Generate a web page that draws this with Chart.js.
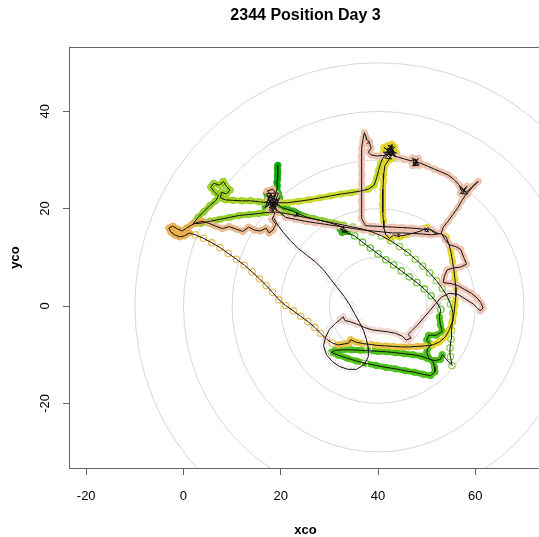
<!DOCTYPE html>
<html>
<head>
<meta charset="utf-8">
<script src="https://cdn.jsdelivr.net/npm/chart.js@4.4.1/dist/chart.umd.min.js"></script>
<style>
  html, body { margin: 0; padding: 0; background: #fff; overflow: hidden; width: 539px; height: 537px; }
  #wrap { width: 560px; height: 537px; position: relative; }
</style>
</head>
<body>
<div id="wrap"><canvas id="c" width="560" height="537"></canvas></div>
<script>
// ---------------- data ----------------
const chartTitle = "2344 Position Day 3";
const xLabel = "xco";
const yLabel = "yco";
const xTicks = [-20, 0, 20, 40, 60];
const yTicks = [-20, 0, 20, 40];
const xRange = [-23.33, 73.5];
const yRange = [-33.26, 53.18];
const ringCenter = [40, 0];
const ringRadii = [10, 20, 30, 40, 50];

// track, in time order, split into colour phases
const segA = [[19.4,28.9],[19.3,28.2],[19.4,27.5],[19.3,26.8],[19.4,26.1],[19.2,25.4],[19.3,24.7],[19.2,24.0],[19.0,23.3],[18.8,22.6],[18.4,22.0]];
const segB = [[17.8,21.6],[18.6,21.0],[17.9,20.4],[18.9,20.6],[18.2,21.9],[17.2,20.6],[19.4,21.7],[17.4,22.6],[18.8,20.1],[16.9,21.4],[19.6,20.8],[18.1,19.8],[18.9,22.8],[17.3,21.9],[19.2,19.6],[17.8,22.9],[16.8,20.2],[19.8,22.2],[18.4,19.4],[17.1,23.1],[19.5,23.2],[18.6,20.6],[17.6,20.2],[18.8,21.4],[20.2,20.2],[21.5,19.8],[22.6,19.5],[23.4,18.9],[22.7,18.4],[23.8,18.6],[23.1,19.2],[25.2,18.3],[26.8,17.9],[28.4,17.5],[30,17.1],[31.4,16.7],[32.5,16.3],[33.4,15.6],[32.6,15.1],[33.8,15.3],[32.2,15.8],[33,16.4],[32.6,15.4]];
const segC = [[35.2,14.4],[36.8,13.1],[38.4,11.9],[40,10.7],[41.6,9.5],[43.2,8.4],[44.8,7.2],[46.4,6],[48,4.8],[49.5,3.5],[50.9,2.1],[52.1,0.7],[52.9,-0.7]];
const segD = [[52.6,-2.2],[52.8,-3.8],[53.2,-5.2],[52,-6],[50.4,-6],[50,-7],[51,-8],[50.2,-8.7],[50,-9.5],[50.4,-10.6],[51.3,-11.4],[51.6,-12.5],[51.7,-13.5],[50.8,-14.3],[49.2,-14],[47.5,-13.6],[45.6,-13.3],[43.6,-12.9],[41.6,-12.6],[39.6,-12.2],[37.6,-11.8],[35.6,-11.3],[33.6,-10.7],[31.8,-10.1],[30.4,-9.5],[31.2,-9.1],[32.8,-9],[34.6,-9],[36.4,-9.1],[38.2,-9.2],[40,-9.3],[41.8,-9.4],[43.6,-9.6],[45.4,-9.8],[47.2,-10],[48.8,-10.3],[50.2,-10.8],[51.6,-11.2],[52.8,-11],[53.2,-10]];
const segE = [[55.2,-12.2],[54.9,-10.4],[54.8,-8.6],[55,-6.8],[55.1,-5],[55.3,-3.2],[55.4,-1.4],[54.9,0.4],[54.2,2],[53.2,3.6],[52,5.2],[50.6,6.8],[49.2,8.2],[47.7,9.6],[46.1,11],[44.4,12.2],[42.6,13.4],[40.7,14.4],[38.8,15.2],[36.8,15.8],[34.8,16.2]];
const segF = [[33,16.6],[31,17],[29,17.4],[27,17.8],[25,18.2],[23,18.6],[21,19],[19,19.3],[17,19.2],[15.5,19],[13.5,18.8],[11.5,18.6],[9.5,18.2],[7.5,17.8],[5.5,17.4],[3.6,17],[2,16.9],[3,18.2],[4.2,19.4],[5.4,20.6],[6.6,21.6]];
const segG = [[7.2,22.6],[6.4,23.4],[5.6,24.4],[6.2,25.2],[7.4,24.8],[8.2,25.6],[8.8,24.6],[9.6,23.8],[8.8,23],[7.8,23.4],[7.6,22.2],[8.6,21.8],[10.2,21.7],[12,21.6],[13.8,21.6],[15.6,21.4],[17.2,21.2]];
const segH = [[19.2,21.2],[21.4,21.2],[23.6,21.5],[25.8,21.8],[28,22.2],[30.2,22.6],[32.4,23],[34.6,23.3],[36.4,23.6],[38,24],[39.2,24.8],[39.7,26.3],[40.1,27.8],[40.5,29.2],[41,30.4]];
const segI = [[41.6,31.2],[42.4,32.3],[43.2,31.6],[42.6,30.8],[41.8,31.8],[42.8,32.8],[43.4,30.8],[41.2,32.6],[43.6,30.6],[42.1,33],[43.4,32.6],[41.4,30.4],[42.8,30.2],[41.1,31.6],[43.8,31.4],[42.3,32.1],[42.9,33.2],[42.6,31.4],[41.9,32.4],[43,32],[42.2,31],[42.9,30.9],[41.7,31.5],[42.5,32.6],[43.3,31.8],[42.2,30],[41.4,28.8],[41.2,27.2],[41.1,25.6],[41,24],[41,22.4],[40.9,20.8],[41,19.2],[41.1,17.6],[41.2,16],[41.6,14.6],[42.4,13.9],[43.2,14.6],[44.4,14.2],[44,14.8],[44.8,14.4],[45.8,14.6],[47.4,15],[48.8,15.4],[49.8,16],[50.4,15.2],[49.6,15.4],[50.2,16.1],[51.6,15],[53,14.8],[54,14.2],[54.6,12.6],[55,11],[55.3,9.2],[55.6,7.4],[55.8,5.6],[56,3.8],[56,2],[55.8,0.2],[55.6,-1.6],[55.2,-3.4],[54.6,-5],[53.8,-6.4],[52.6,-7.4],[51.2,-8]];
const segJ = [[49.6,-8.2],[48,-8.3],[46.4,-8.4],[44.8,-8.4],[43.2,-8.3],[41.6,-8.2],[40,-8.1],[38.4,-7.9],[36.8,-7.7],[35.4,-7.4],[34.4,-6.9],[34,-7.6],[33,-7.8],[31.8,-8]];
const segK = [[30.6,-7.6],[29.4,-6.8],[28.2,-5.6],[27,-4.4],[25.6,-3.2],[24.1,-2.1],[22.6,-1],[21,0.1],[19.6,1.3],[18.3,2.8],[17,4.2],[15.6,5.6],[14.1,7],[12.5,8.4],[10.9,9.6],[9.2,10.8],[7.5,12],[5.8,13],[4.1,13.9],[2.5,14.6]];
const segL = [[1.2,15],[0.2,14.4],[-0.8,14.2],[-1.8,14.6],[-2.6,15.2],[-3,16],[-2.2,16.4],[-1.2,15.8],[-0.2,15.4],[0.6,16],[1.6,16.6],[2.6,17.1],[3.8,17.4]];
const segM = [[5.2,17],[6.6,16.4],[8,15.9],[9.4,16.3],[10.8,15.8],[12.2,15.3],[13.4,16.2],[14.6,15.6],[15.8,15.4],[17,16],[17.6,15],[18.4,15.6],[19,16.8],[18.2,17.8],[18.8,19],[17.6,19.8],[18.6,20.8],[17.4,21.8],[18.2,22.8],[17.2,23.6],[18.4,24],[19,23],[18,22.2],[19.4,21.6],[18.4,20.2],[19.6,19.4]];
const segN = [[21,18.2],[23,17.8],[25,17.4],[27,17.1],[29,16.8],[31,16.5],[33,16.2],[35,15.9],[37,15.6],[39,15.4],[41,15.2],[43,15],[45,15],[47,14.9],[49,14.8],[51,14.6],[52.4,14.8],[51,15.6],[49,15.8],[47,16],[45,16.1],[43,16.2],[41,16.3],[39,16.4],[37.4,16.5],[36.6,18],[36.7,19.8],[36.6,21.6],[36.5,23.4],[36.6,25.2],[36.7,27],[36.6,28.8],[36.6,30.6],[36.7,32.4],[36.9,34.2],[37.2,35.6],[37.6,34.6],[37.6,34.2],[38.2,33.8],[37.8,33.4],[38.2,33.6],[38.6,32.4],[38,31.6],[38.6,31],[39.8,30.8],[41,30.9],[42.6,31.2],[44,30.6],[45.4,30.2],[46.8,29.8],[47.6,30.2],[48.2,29.2],[47.4,29],[47.2,29.8],[48,30],[47.8,29.2],[47.3,29.4],[48.1,29.6],[47,30.4],[48.4,28.9],[47.1,28.8],[48.3,30.3],[47.6,29.6],[48.8,29.3],[50.2,28.7],[51.6,28.1],[53,27.5],[54.4,26.9],[55.6,26],[56.6,24.9],[57.4,24],[57.2,24.2],[57.9,23.5],[57.4,23.3],[58,24.1],[57.1,23.7],[56.8,24.6],[58.4,23],[56.9,23.1],[58.3,24.6],[57.6,23.8],[58.2,23.4],[59.2,24.4],[60.6,25.6],[59.6,24.6],[58,22.8],[57.2,21.6],[56.4,20.2],[55.4,18.8],[54.4,17.4],[53.4,16.2],[53,15],[53.8,13.6],[54.6,12.6],[56,12.2],[57,11.6],[57.6,10],[58.2,8.6],[57,8],[55.4,7.8],[54.2,7.4],[53.6,6],[53.4,4.8],[55,4.6],[56.4,4.2],[57.8,3.4],[59.2,2.6],[60.4,1.6],[61.2,0.6],[61.6,-0.4],[61,-1]];
const segO = [[59.6,0.4],[58,1.4],[56.4,2.4],[54.6,2.6],[53,1.8],[51.8,0.4],[50.6,-1],[49.4,-2.4],[48.2,-3.8],[47,-5],[46.2,-5.8],[46.8,-6.6],[45.8,-7],[45,-6.2],[43.6,-5.6],[42,-5.3],[40.4,-5.1],[38.8,-4.9],[37.2,-4.4],[35.6,-3.7],[34.2,-3.2],[33.2,-3],[32.8,-2.2],[32.2,-2.8]];
const segP = [[31.2,-3.6],[30,-4.8],[29.2,-6.4],[28.8,-8.2],[29.4,-10],[30.6,-11.4],[32,-12.4],[33.8,-13],[35.6,-13],[37.2,-12],[38,-10.4],[38,-8.6],[37.6,-6.8],[37,-5],[36.2,-3.4],[35.2,-1.6],[34.2,0.2],[33,2],[31.6,3.8],[30.2,5.6],[28.8,7.4],[27.2,9],[25.4,10.4],[23.6,11.8],[22,13.4],[20.6,15],[19.4,16.6],[18.6,18]];

const segments = [segA, segB, segC, segD, segE, segF, segG, segH, segI, segJ, segK, segL, segM, segN, segO, segP];

// ---------------- styles ----------------
const segStyle = [
  { band: '#00A600', ring: '#10AE10' },
  { band: '#3CB81E', ring: '#30B010' },
  { band: null,      ring: '#6CC83A' },
  { band: '#52C41C', ring: '#44BC10' },
  { band: null,      ring: '#90D254' },
  { band: '#9AD230', ring: '#88C820' },
  { band: '#B4DA2A', ring: '#80C818' },
  { band: '#CCDC30', ring: '#C0D420' },
  { band: '#EADF30', ring: '#DDD020' },
  { band: '#ECC84A', ring: '#E4BC3C' },
  { band: null,      ring: '#EABE5C' },
  { band: '#EDB65A', ring: '#E6AA48' },
  { band: '#EFBF94', ring: '#EAB286' },
  { band: '#F1C9B8', ring: '#ECBCAA' },
  { band: '#F4DCD6', ring: '#EFD0C8' },
  { band: null,      ring: '#F4E6E4' }
];

const toXY = p => ({ x: p[0], y: p[1] });
const datasets = [];
segments.forEach((seg, i) => {
  const st = segStyle[i];
  datasets.push({
    data: seg.map(toXY),
    showLine: !!st.band,
    borderColor: st.band || st.ring,
    borderWidth: st.band ? 6 : 0,
    borderJoinStyle: 'round',
    borderCapStyle: 'round',
    tension: 0,
    pointRadius: 3.2,
    pointBorderWidth: st.band ? 1 : 1.3,
    pointBorderColor: st.ring,
    pointBackgroundColor: 'rgba(0,0,0,0)',
    pointHoverRadius: 0,
    order: 100 - i
  });
});
datasets.push({
  data: segments.flat().map(toXY),
  showLine: true,
  borderColor: '#111',
  borderWidth: 1,
  tension: 0,
  pointRadius: 0,
  pointHoverRadius: 0,
  order: 0
});

const FONT = "'Liberation Sans', Arial, Helvetica, sans-serif";

const refPlugin = {
  id: 'ref',
  beforeDatasetsDraw(chart) {
    const { ctx, chartArea: a, scales: { x, y } } = chart;
    ctx.save();
    ctx.beginPath();
    ctx.rect(a.left, a.top, a.right - a.left, a.bottom - a.top);
    ctx.clip();
    ctx.strokeStyle = '#D6D6D6';
    ctx.lineWidth = 1;
    const cx = x.getPixelForValue(ringCenter[0]);
    const cy = y.getPixelForValue(ringCenter[1]);
    ringRadii.forEach(r => {
      const rp = x.getPixelForValue(ringCenter[0] + r) - cx;
      ctx.beginPath();
      ctx.arc(cx, cy, rp, 0, Math.PI * 2);
      ctx.stroke();
    });
    ctx.restore();
  },
  afterDraw(chart) {
    const { ctx, chartArea: a, scales: { x, y } } = chart;
    ctx.save();
    ctx.strokeStyle = '#666';
    ctx.lineWidth = 1;
    ctx.strokeRect(Math.round(a.left) - 0.5, Math.round(a.top) + 0.5, a.right - a.left, Math.round(a.bottom - a.top));
    ctx.fillStyle = '#000';
    ctx.textAlign = 'center';
    ctx.textBaseline = 'middle';
    ctx.font = 'bold 16px ' + FONT;
    ctx.fillText(chartTitle, (a.left + a.right) / 2, 16);
    ctx.font = 'bold 13px ' + FONT;
    ctx.fillText(xLabel, (a.left + a.right) / 2, 530);
    ctx.save();
    ctx.translate(15, (a.top + a.bottom) / 2);
    ctx.rotate(-Math.PI / 2);
    ctx.fillText(yLabel, 0, 0);
    ctx.restore();
    ctx.font = '13px ' + FONT;
    yTicks.forEach(v => {
      const py = y.getPixelForValue(v);
      ctx.save();
      ctx.translate(45, py);
      ctx.rotate(-Math.PI / 2);
      ctx.fillText(String(v), 0, 0);
      ctx.restore();
    });
    ctx.restore();
  }
};

new Chart(document.getElementById('c'), {
  type: 'scatter',
  data: { datasets },
  options: {
    responsive: false,
    animation: false,
    events: [],
    layout: { padding: { top: 47, right: 19, left: 0, bottom: 0 } },
    plugins: { legend: { display: false }, tooltip: { enabled: false }, title: { display: false } },
    scales: {
      x: {
        type: 'linear', min: xRange[0], max: xRange[1],
        afterBuildTicks: s => { s.ticks = xTicks.map(v => ({ value: v })); },
        afterFit: s => { s.height = 69; },
        grid: { drawOnChartArea: false, drawTicks: true, tickLength: 7, color: '#666', lineWidth: 1 },
        border: { display: false },
        ticks: { color: '#000', font: { family: FONT, size: 13 }, padding: 14, maxRotation: 0, autoSkip: false,
                 callback: v => String(v) }
      },
      y: {
        type: 'linear', min: yRange[0], max: yRange[1],
        afterBuildTicks: s => { s.ticks = yTicks.map(v => ({ value: v })); },
        afterFit: s => { s.width = 70; },
        grid: { drawOnChartArea: false, drawTicks: true, tickLength: 7, color: '#666', lineWidth: 1 },
        border: { display: false },
        ticks: { color: 'rgba(0,0,0,0)', font: { family: FONT, size: 13 }, padding: 4 }
      }
    }
  },
  plugins: [refPlugin]
});
</script>
</body>
</html>
